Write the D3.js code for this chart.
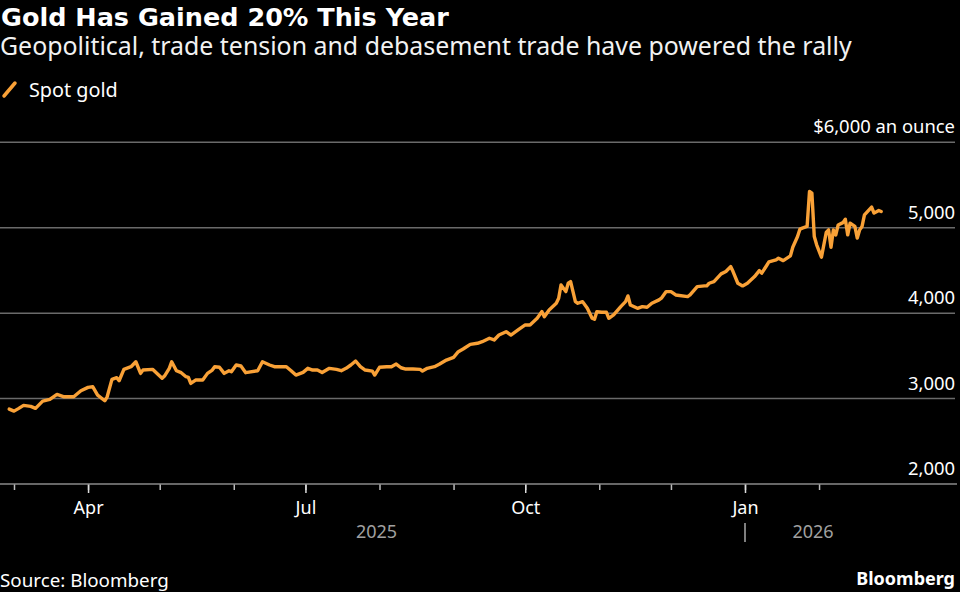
<!DOCTYPE html>
<html>
<head>
<meta charset="utf-8">
<script src="https://cdn.jsdelivr.net/npm/d3@7"></script>
<style>
  html, body { margin: 0; padding: 0; background: #000; }
  svg { display: block; }
  text { font-family: "Noto Sans", "Open Sans", sans-serif; }
</style>
</head>
<body>
<svg id="chart" width="960" height="592"></svg>
<script>
// spot gold, USD an ounce
var goldDates = [
  "2025-02-27", "2025-03-01", "2025-03-03", "2025-03-05", "2025-03-08", "2025-03-10",
  "2025-03-13", "2025-03-16", "2025-03-19", "2025-03-22", "2025-03-26", "2025-03-29",
  "2025-04-01", "2025-04-03", "2025-04-05", "2025-04-08", "2025-04-09", "2025-04-11",
  "2025-04-13", "2025-04-14", "2025-04-16", "2025-04-19", "2025-04-21", "2025-04-23",
  "2025-04-24", "2025-04-28", "2025-05-02", "2025-05-03", "2025-05-05", "2025-05-06",
  "2025-05-08", "2025-05-10", "2025-05-12", "2025-05-13", "2025-05-14", "2025-05-16",
  "2025-05-19", "2025-05-21", "2025-05-23", "2025-05-24", "2025-05-26", "2025-05-28",
  "2025-05-30", "2025-05-31", "2025-06-02", "2025-06-04", "2025-06-06", "2025-06-11",
  "2025-06-13", "2025-06-16", "2025-06-18", "2025-06-23", "2025-06-25", "2025-06-27",
  "2025-06-30", "2025-07-02", "2025-07-04", "2025-07-06", "2025-07-08", "2025-07-11",
  "2025-07-14", "2025-07-16", "2025-07-18", "2025-07-20", "2025-07-22", "2025-07-24",
  "2025-07-26", "2025-07-29", "2025-07-30", "2025-08-01", "2025-08-04", "2025-08-06",
  "2025-08-08", "2025-08-10", "2025-08-12", "2025-08-15", "2025-08-18", "2025-08-19",
  "2025-08-21", "2025-08-24", "2025-08-26", "2025-08-29", "2025-09-01", "2025-09-03",
  "2025-09-05", "2025-09-08", "2025-09-11", "2025-09-13", "2025-09-16", "2025-09-18",
  "2025-09-20", "2025-09-23", "2025-09-25", "2025-09-28", "2025-10-01", "2025-10-03",
  "2025-10-06", "2025-10-08", "2025-10-09", "2025-10-11", "2025-10-14", "2025-10-15",
  "2025-10-16", "2025-10-18", "2025-10-19", "2025-10-20", "2025-10-22", "2025-10-23",
  "2025-10-25", "2025-10-27", "2025-10-29", "2025-10-30", "2025-10-31", "2025-11-02",
  "2025-11-04", "2025-11-05", "2025-11-07", "2025-11-10", "2025-11-12", "2025-11-13",
  "2025-11-14", "2025-11-17", "2025-11-19", "2025-11-21", "2025-11-23", "2025-11-26",
  "2025-11-27", "2025-11-29", "2025-12-01", "2025-12-03", "2025-12-08", "2025-12-09",
  "2025-12-12", "2025-12-15", "2025-12-16", "2025-12-17", "2025-12-19", "2025-12-22",
  "2025-12-24", "2025-12-26", "2025-12-27", "2025-12-29", "2025-12-31", "2026-01-02",
  "2026-01-05", "2026-01-07", "2026-01-08", "2026-01-10", "2026-01-11", "2026-01-14",
  "2026-01-15", "2026-01-17", "2026-01-20", "2026-01-21", "2026-01-23", "2026-01-24",
  "2026-01-25", "2026-01-27", "2026-01-28", "2026-01-29", "2026-01-30", "2026-01-31",
  "2026-02-02", "2026-02-04", "2026-02-05", "2026-02-06", "2026-02-07", "2026-02-08",
  "2026-02-09", "2026-02-11", "2026-02-12", "2026-02-13", "2026-02-14", "2026-02-16",
  "2026-02-17", "2026-02-18", "2026-02-19", "2026-02-20", "2026-02-23", "2026-02-24",
  "2026-02-26", "2026-02-27"
];

var goldValues = [
  2877, 2853, 2885, 2920, 2908, 2885,
  2970, 2990, 3049, 3021, 3021, 3091,
  3131, 3138, 3041, 2974, 3021, 3225,
  3244, 3209, 3342, 3373, 3431, 3295,
  3334, 3342, 3237, 3264, 3354, 3431,
  3326, 3303, 3256, 3249, 3178, 3217,
  3217, 3295, 3334, 3373, 3366, 3295,
  3326, 3314, 3393, 3381, 3303, 3326,
  3431, 3393, 3373, 3373, 3326, 3275,
  3307, 3354, 3334, 3334, 3305, 3354,
  3342, 3326, 3354, 3393, 3440, 3373,
  3334, 3322, 3275, 3366, 3373, 3373,
  3404, 3361, 3346, 3346, 3342, 3322,
  3354, 3373, 3401, 3451, 3483, 3549,
  3580, 3635, 3647, 3666, 3706, 3686,
  3744, 3783, 3744, 3803, 3862, 3862,
  3940, 4018, 3959, 4038, 4116, 4175,
  4331, 4252, 4350, 4369, 4135, 4116,
  4135, 4057, 3940, 3928, 4018, 4010,
  4010, 3940, 3979, 4076, 4135, 4202,
  4096, 4057, 4076, 4069, 4116, 4155,
  4175, 4252, 4252, 4213, 4194, 4213,
  4311, 4319, 4319, 4350, 4369, 4460,
  4487, 4545, 4487, 4350, 4319, 4350,
  4428, 4498, 4468, 4555, 4600, 4624,
  4643, 4615, 4670, 4772, 4897, 4984,
  4996, 5015, 5424, 5405, 4897, 4800,
  4655, 4944, 4975, 4772, 4975, 4916,
  5033, 5060, 5100, 4916, 5054, 5015,
  4878, 4975, 5015, 5151, 5242, 5171,
  5202, 5190
];

var yTicks = [2000, 3000, 4000, 5000, 6000];
var xLabelMonths = ["2025-04-01", "2025-07-01", "2025-10-01", "2026-01-01"];
var yearLabels = ["2025", "2026"];

var svg = d3.select("#chart");
var parseDate = d3.timeParse("%Y-%m-%d");

var goldData = goldDates.map(function (d, i) {
  return { date: parseDate(d), value: goldValues[i] };
});

// scales: month ticks sit at Mar 1 2025 = 14px, Jan 1 2026 = 745px
var x = d3.scaleTime()
  .domain([parseDate("2025-03-01"), parseDate("2026-01-01")])
  .range([14, 745]);

var y = d3.scaleLinear().domain([2000, 6000]).range([484, 142.3]);

/*
    NAME: drawFrame
    DESCRIPTION: title, subtitle, legend and footer texts
*/
function drawFrame() {
  svg.append("rect").attr("width", 960).attr("height", 592).attr("fill", "#000");

  svg.append("text")
    .attr("x", 1)
    .attr("y", 26)
    .attr("fill", "#fff")
    .attr("font-size", 25.5)
    .attr("font-weight", "bold")
    .style("font-family", "'DejaVu Sans', sans-serif")
    .text("Gold Has Gained 20% This Year");

  svg.append("text")
    .attr("x", 0)
    .attr("y", 55)
    .attr("fill", "#f2f2f2")
    .attr("font-size", 24.9)
    .text("Geopolitical, trade tension and debasement trade have powered the rally");

  // legend swatch is a short slanted stroke
  svg.append("line")
    .attr("x1", 4)
    .attr("y1", 96)
    .attr("x2", 15)
    .attr("y2", 83)
    .attr("stroke", "#f9a137")
    .attr("stroke-width", 3.5)
    .attr("stroke-linecap", "round");

  svg.append("text")
    .attr("x", 29)
    .attr("y", 97)
    .attr("fill", "#fff")
    .attr("font-size", 19.8)
    .text("Spot gold");

  svg.append("text")
    .attr("x", 0)
    .attr("y", 587)
    .attr("fill", "#fff")
    .attr("font-size", 18.8)
    .text("Source: Bloomberg");

  svg.append("text")
    .attr("x", 955)
    .attr("y", 585)
    .attr("text-anchor", "end")
    .attr("fill", "#fff")
    .attr("font-size", 18)
    .attr("font-weight", "bold")
    .text("Bloomberg");

  return;
} // end function drawFrame

/*
    NAME: drawAxes
    DESCRIPTION: gridlines, y labels on the right, month ticks and year labels
*/
function drawAxes() {
  var grid = svg.append("g").attr("class", "grid");

  grid.selectAll("line")
    .data(yTicks.filter(function (d) { return d > 2000; }))
    .enter()
    .append("line")
    .attr("x1", 0)
    .attr("x2", 955)
    .attr("y1", function (d) { return y(d); })
    .attr("y2", function (d) { return y(d); })
    .attr("stroke", "#6a6a6a")
    .attr("stroke-width", 1.5);

  grid.selectAll("text")
    .data(yTicks)
    .enter()
    .append("text")
    .attr("x", 955)
    .attr("y", function (d) { return y(d) - 9; })
    .attr("text-anchor", "end")
    .attr("fill", "#fff")
    .attr("font-size", 18.4)
    .text(function (d) {
      return d == 6000 ? "$" + d3.format(",")(d) + " an ounce" : d3.format(",")(d);
    });

  // month ticks (short) across the whole span
  var minorAxis = d3.axisBottom(x)
    .tickValues(d3.timeMonth.range(parseDate("2025-03-01"), parseDate("2026-02-02")))
    .tickSize(6)
    .tickFormat("");

  svg.append("g")
    .attr("class", "minor-axis")
    .attr("transform", "translate(0,484)")
    .call(minorAxis)
    .call(function (g) {
      g.select(".domain").remove();
      g.selectAll(".tick line").attr("stroke", "#bbb").attr("stroke-width", 1.5);
    });

  // quarter ticks with labels
  var majorAxis = d3.axisBottom(x)
    .tickValues(xLabelMonths.map(parseDate))
    .tickSize(9)
    .tickPadding(8)
    .tickFormat(d3.timeFormat("%b"));

  svg.append("g")
    .attr("class", "major-axis")
    .attr("transform", "translate(0,484)")
    .call(majorAxis)
    .call(function (g) {
      g.select(".domain").remove();
      g.selectAll(".tick line").attr("stroke", "#ddd").attr("stroke-width", 1.5);
      g.selectAll(".tick text")
        .attr("fill", "#fff")
        .attr("font-size", 18)
        .attr("font-family", "'Noto Sans', sans-serif");
    });

  // baseline at 2,000
  svg.append("line")
    .attr("x1", 0)
    .attr("x2", 957)
    .attr("y1", y(2000))
    .attr("y2", y(2000))
    .attr("stroke", "#8a8a8a")
    .attr("stroke-width", 1.5);

  // year separator and year labels
  var jan = x(parseDate("2026-01-01"));
  var lastX = x(goldData[goldData.length - 1].date);

  svg.append("line")
    .attr("x1", jan)
    .attr("x2", jan)
    .attr("y1", 523)
    .attr("y2", 542)
    .attr("stroke", "#aaa")
    .attr("stroke-width", 1.5);

  svg.selectAll(".year-label")
    .data(yearLabels)
    .enter()
    .append("text")
    .attr("class", "year-label")
    .attr("x", function (d, i) { return i == 0 ? (8 + jan) / 2 : (jan + lastX) / 2; })
    .attr("y", 538)
    .attr("text-anchor", "middle")
    .attr("fill", "#a0a0a0")
    .attr("font-size", 18)
    .text(function (d) { return d; });

  return;
} // end function drawAxes

/*
    NAME: drawLine
    DESCRIPTION: spot gold line
*/
function drawLine() {
  var line = d3.line()
    .x(function (d) { return x(d.date); })
    .y(function (d) { return y(d.value); });

  svg.append("path")
    .datum(goldData)
    .attr("d", line)
    .attr("fill", "none")
    .attr("stroke", "#f9a137")
    .attr("stroke-width", 3.4)
    .attr("stroke-linejoin", "round")
    .attr("stroke-linecap", "round");

  return;
} // end function drawLine

drawFrame();
drawAxes();
drawLine();
</script>
</body>
</html>
